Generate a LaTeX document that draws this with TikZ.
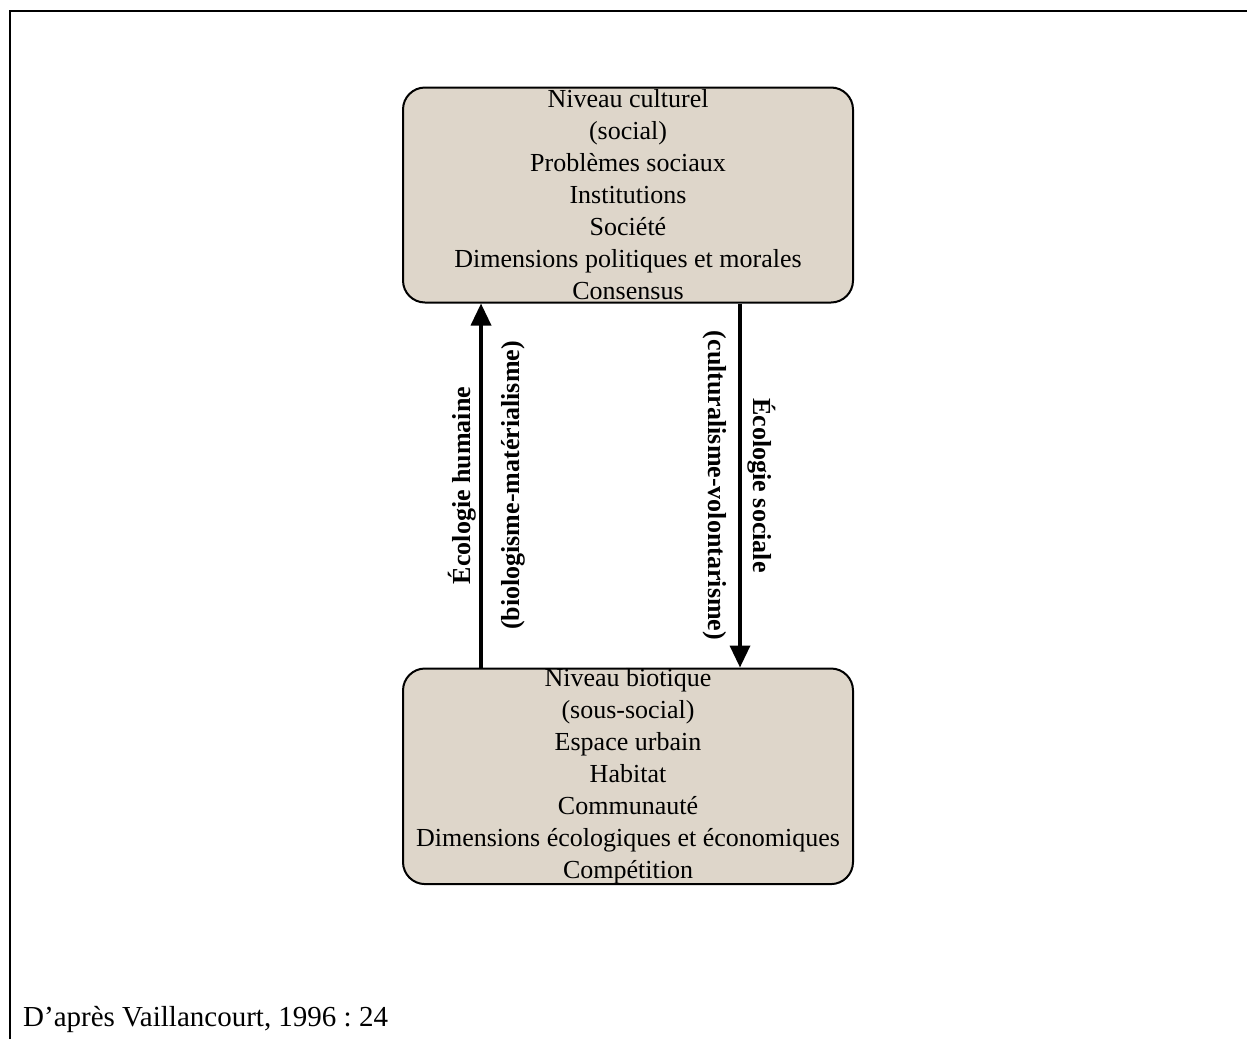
\documentclass[tikz,border=0pt]{standalone}
\usepackage{fontspec}
\setmainfont{Liberation Serif}
\usepackage{tikz}
\usetikzlibrary{arrows.meta,positioning}
\definecolor{sable}{RGB}{222,214,202}
\frenchspacing

\begin{document}
\begin{tikzpicture}[x=1pt,y=-1pt]
\tikzstyle{niveau}=[rectangle,rounded corners=22pt,draw,line width=2pt,fill=sable,minimum width=450pt,minimum height=215pt,inner sep=0pt,align=center,font=\fontsize{26}{32}\selectfont]
\tikzstyle{fleche}=[line width=3.5pt,-{Triangle[width=20pt,length=22pt]}]
\tikzstyle{etiquette}=[font=\fontsize{26}{30}\selectfont\bfseries,inner sep=0pt]
\useasboundingbox (0,0) rectangle (1247,1039);
\draw[line width=2pt] (10,1039) -- (10,11) -- (1247,11);
\node[niveau] (culturel) at (628,195) {Niveau culturel\\(social)\\Problèmes sociaux\\Institutions\\Société\\Dimensions politiques et morales\\Consensus};
\node[niveau,below=364pt of culturel] (biotique) {Niveau biotique\\(sous-social)\\Espace urbain\\Habitat\\Communauté\\Dimensions écologiques et économiques\\Compétition};
\draw[fleche] ([xshift=-147pt]biotique.north) -- ([xshift=-147pt]culturel.south) coordinate[midway] (mgauche);
\draw[fleche] ([xshift=112pt]culturel.south) -- ([xshift=112pt]biotique.north) coordinate[midway] (mdroite);
\node[etiquette,rotate=90] (humaine) at ([xshift=-19pt]mgauche) {Écologie humaine};
\node[etiquette,rotate=90] (biologisme) at ([xshift=32pt]mgauche) {(biologisme-matérialisme)};
\node[etiquette,rotate=-90] (culturalisme) at ([xshift=-25pt]mdroite) {(culturalisme-volontarisme)};
\node[etiquette,rotate=-90] (sociale) at ([xshift=22pt]mdroite) {Écologie sociale};
\node[anchor=base west,font=\fontsize{29}{34}\selectfont,inner sep=0pt] (source) at (23,1026) {D’après Vaillancourt, 1996 : 24};
\end{tikzpicture}
\end{document}
